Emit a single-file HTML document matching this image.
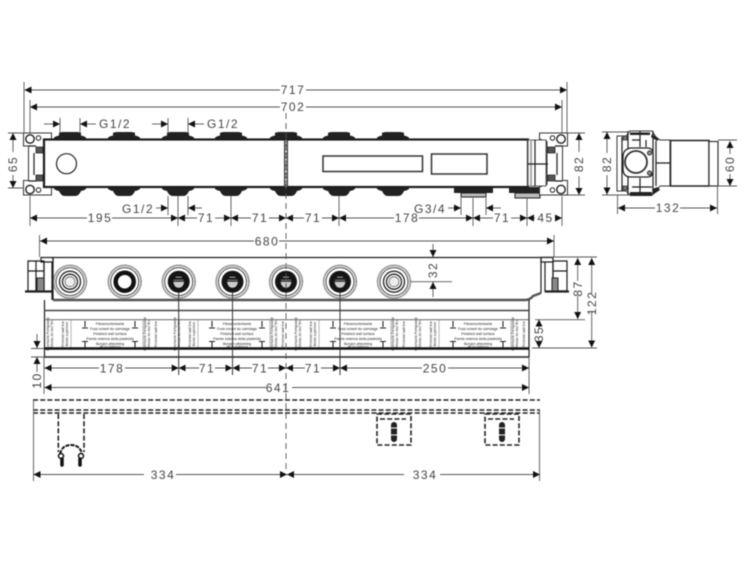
<!DOCTYPE html>
<html><head><meta charset="utf-8"><style>
html,body{margin:0;padding:0;background:#fff;width:750px;height:563px;overflow:hidden}
svg{display:block;filter:blur(.4px)}
text{font-family:"Liberation Sans",sans-serif;font-size:12px;fill:#444;letter-spacing:1.500px;text-anchor:middle}
.t{font-size:3.600px;letter-spacing:0;fill:#222}
.v{font-size:3.400px;letter-spacing:0;fill:#222}
.d{fill:none;stroke:#555;stroke-width:.9}
.e{marker-end:url(#a)}
.s{marker-start:url(#a)}
.k{fill:none;stroke:#1c1c1c;stroke-width:1.200}
.b{fill:none;stroke:#1c1c1c;stroke-width:2.200}
.g{fill:none;stroke:#777;stroke-width:.8}
.da{fill:none;stroke:#222;stroke-width:1.600;stroke-dasharray:5 2.200}
.c{fill:none;stroke:#555;stroke-width:.9;stroke-dasharray:6 4}
</style></head><body>
<svg width="750" height="563" viewBox="0 0 750 563" xmlns="http://www.w3.org/2000/svg">
<defs>
<marker id="a" markerUnits="userSpaceOnUse" markerWidth="8" markerHeight="8" refX="7" refY="3.500" orient="auto-start-reverse"><path d="M7 3.500L0 0V7Z" fill="#111"/></marker>
<path id="bt" d="M-16 7V5.500Q-14 4-11 3.500V.8Q-9 0-7 0H7Q9 0 11 .8V3.500Q14 4 16 5.500V7Z" fill="#222"/>
<path id="bb" d="M-16 0V2Q-14 3.500-11 4Q-9 9-5 9H5Q9 9 11 4Q14 3.500 16 2V0Z" fill="#222"/>
<g id="ring"><circle r="16.300" fill="none" stroke="#666" stroke-width="1.800" stroke-dasharray="1.200 .7"/><circle r="14" fill="none" stroke="#333" stroke-width=".9"/></g>
<g id="c1"><use href="#ring"/><circle r="10.500" fill="none" stroke="#222" stroke-width="1.300"/><circle r="7.500" fill="none" stroke="#222" stroke-width="1.300"/><circle r="5" fill="#eee" stroke="#666" stroke-width=".8"/></g>
<g id="c2"><use href="#ring"/><circle r="9" fill="none" stroke="#111" stroke-width="4.500"/></g>
<g id="c3"><use href="#ring"/><circle r="11" fill="#151515"/><path d="M-5.500 0H5.500Q4.500 6 0 6Q-4.500 6-5.500 0Z" fill="#ccc"/><path d="M-3-4.500H3" stroke="#999" stroke-width="1.200"/><path d="M-5-1.500H5" stroke="#aaa" stroke-width=".8"/></g>
<g id="lab">
<text class="t" y="325">Fliesenunterkante</text>
<text class="t" y="330">Fuss sorant du carrelage</text>
<text class="t" y="335">Finished wall surface</text>
<text class="t" y="340">Parete esterna della piastrella</text>
<text class="t" y="345">Borgen afslutning</text>
<text class="t" y="348">de la baldosa</text>
<path d="M-25 321V327M-28 328H-22M25 321V327M22 328H28M-25 342V348M-28 341.500H-22M25 342V348M22 341.500H28" stroke="#222" stroke-width="1.100"/>
<text class="v" transform="translate(-61 334)rotate(-90)">Oberkante Fertigwand</text>
<text class="v" transform="translate(-57 334)rotate(-90)">Niveau du mur fini</text>
<text class="v" transform="translate(-46 334)rotate(-90)">Finished wall line</text>
<text class="v" transform="translate(-42 334)rotate(-90)">Bordo superiore</text>
<text class="v" transform="translate(36 334)rotate(-90)">Oberkante Fertigwand</text>
<text class="v" transform="translate(40 334)rotate(-90)">Niveau du mur fini</text>
<text class="v" transform="translate(47 334)rotate(-90)">Finished wall line</text>
<path d="M-39 320V348M33 320V348" stroke="#888" stroke-width=".6"/>
</g>
<g id="brk">
<path d="M23.500 133H51.500V139L44 141.500V184.500L51.500 187V195H23.500V180.500H28.500V146H23.500Z" fill="#fff" stroke="#333" stroke-width="1"/>
<circle cx="30" cy="139" r="4.200" fill="#fff" stroke="#222" stroke-width="1.400"/><circle cx="38.500" cy="138" r="2.300" fill="#fff" stroke="#222"/>
<circle cx="30" cy="189.500" r="4.200" fill="#fff" stroke="#222" stroke-width="1.400"/><circle cx="38.500" cy="190" r="2.300" fill="#fff" stroke="#222"/>
<path d="M36 147H43V153H36ZM36 175H43V181H36Z" fill="#555" stroke="#222" stroke-width=".8"/>
<path d="M34 153V175" class="k"/><path d="M28.500 146H36M28.500 181H36" class="k" stroke-width=".8"/>
</g>
<g id="hb"><rect x="-17" y="0" width="34" height="31" class="da"/><path d="M-14 5H12" class="da"/><rect x="-3" y="8" width="6" height="20" rx="3" fill="#222"/><path d="M-3 14H3M-3 21H3" stroke="#fff" stroke-width=".9"/></g>
</defs>

<!-- top view -->
<use href="#bt" x="70" y="132"/><use href="#bt" x="124" y="132"/><use href="#bt" x="178" y="132"/><use href="#bt" x="231" y="132"/><use href="#bt" x="286" y="132"/><use href="#bt" x="339" y="132"/><use href="#bt" x="393" y="132"/>
<use href="#bb" x="70" y="187"/><use href="#bb" x="124" y="187"/><use href="#bb" x="178" y="187"/><use href="#bb" x="231" y="187"/><use href="#bb" x="286" y="187"/><use href="#bb" x="339" y="187"/><use href="#bb" x="393" y="187"/>
<path d="M454 187H493V193H454ZM509 187H540V193H509Z" fill="#222"/>
<path d="M461 193H486V197H461ZM515 193H540V198H515Z" fill="#bbb" stroke="#222"/>
<use href="#brk"/>
<use href="#brk" transform="matrix(-1 0 0 1 591 0)"/>
<rect x="44" y="139.500" width="484" height="47.500" fill="#fff" stroke="#1c1c1c" stroke-width="2.200"/>
<path d="M528 140H546V186H528Z" fill="#fff" stroke="#555"/><path d="M531 140V186" stroke="#aaa" stroke-width="2"/><path d="M535 140V186M528 164H548" class="k" stroke-width=".9"/>
<circle cx="66.500" cy="163.700" r="10" fill="#fff" stroke="#222" stroke-width="1.200"/>
<path d="M284.500 140V187M287.500 140V187" stroke="#333" stroke-width="1"/><path d="M286 140V187" stroke="#888" stroke-width="2" stroke-dasharray="3 1"/>
<rect x="323" y="156" width="99.500" height="15.500" fill="#fff" stroke="#333" stroke-width="1.500"/>
<rect x="431.500" y="154" width="55.500" height="20" fill="#fff" stroke="#333" stroke-width="1.500"/>

<!-- top dims -->
<path class="d" d="M24 82V133M30 100V133M567 82V133M562 100V133"/>
<path class="d s" d="M24.500 90H280"/><path class="d e" d="M306 90H567"/>
<path class="d s" d="M30 107H280"/><path class="d e" d="M306 107H562"/>
<text x="293" y="94">717</text><text x="293" y="111">702</text>
<path class="d" d="M60 118V133M80 118V133M168 118V133M188 118V133"/>
<path class="d e" d="M44 124H60"/><path class="d e" d="M96 124H80"/><path class="d e" d="M152 124H168"/><path class="d e" d="M204 124H188"/>
<text x="115" y="128">G1/2</text><text x="223" y="128">G1/2</text>
<path class="d" d="M30 196V226M168 196V215M178 196V226M188 196V215M231 196V226M339 196V226M461 198V215M473 198V226M486 198V215M527 198V226M562 196V226"/>
<text x="138" y="213">G1/2</text>
<path class="d e" d="M156 208H168"/><path class="d e" d="M202 208H188"/>
<text x="430" y="213">G3/4</text>
<path class="d e" d="M448 208H461"/><path class="d e" d="M501 208H486"/>
<path class="d s" d="M30 218H87"/><path class="d e" d="M112 218H178"/><text x="100" y="222">195</text>
<path class="d s" d="M178 218H197"/><path class="d e" d="M215 218H231"/><text x="206" y="222">71</text>
<path class="d s" d="M231 218H251"/><path class="d e" d="M269 218H286"/><text x="260" y="222">71</text>
<path class="d s" d="M286 218H304"/><path class="d e" d="M322 218H339"/><text x="313" y="222">71</text>
<path class="d s" d="M339 218H394"/><path class="d e" d="M419 218H473"/><text x="407" y="222">178</text>
<path class="d s" d="M473 218H493"/><path class="d e" d="M511 218H527"/><text x="502" y="222">71</text>
<path class="d s" d="M527 218H535"/><path class="d e" d="M556 218H562"/><text x="545.500" y="222">45</text>
<path class="d" d="M8 133H24M8 188H24M568 133H585M568 195H585"/>
<path class="d s" d="M13 133V152"/><path class="d e" d="M13 175V188"/><text transform="translate(17 164)rotate(-90)">65</text>
<path class="d s" d="M579 133V152"/><path class="d e" d="M579 176V195"/><text transform="translate(583 164)rotate(-90)">82</text>

<!-- side view -->
<path d="M617 136H626L630 131H652L656 137L660 140H670V186H660L656 191L652 195H630L626 191H617Z" fill="#fff" stroke="#333" stroke-width="1"/>
<path d="M622 137V191M628 131V195M653 131V195M640 131V147M640 178V195M632 140H640M646 140V147M632 187H652M656 163H670M656 141V186" class="k" stroke-width=".9"/>
<path d="M630 132.500H650V135H630ZM652 134L659 139L657 141L651 137ZM630 192H652V196H630ZM652 189L658 187L660 190L654 194Z" fill="#222"/>
<path d="M623 157Q623 149 631 148H647Q653 148 653 154V171Q653 177 647 177H631Q623 177 623 169Z" fill="#fff" stroke="#222" stroke-width="1.300"/>
<circle cx="636" cy="162" r="11" fill="#fff" stroke="#333" stroke-width="1.800"/>
<circle cx="649.500" cy="153" r="2" fill="#999" stroke="#222"/><circle cx="649.500" cy="173" r="2" fill="#999" stroke="#222"/>
<rect x="623" y="136" width="4" height="4" fill="#777" stroke="#222" stroke-width=".7"/><rect x="623" y="186" width="4" height="4" fill="#777" stroke="#222" stroke-width=".7"/>
<rect x="670.500" y="140.500" width="38.500" height="45.500" fill="#fff" stroke="#222" stroke-width="1.500"/>
<rect x="709" y="141.500" width="9" height="44.500" fill="#fff" stroke="#333" stroke-width="1.200"/>
<path class="d" d="M602 132H630M602 195H630M718 140H737M718 186H737M617.500 195V214M717.500 186V214"/>
<path class="d s" d="M607 132V153"/><path class="d e" d="M607 175V194.500"/><text transform="translate(611 164)rotate(-90)">82</text>
<path class="d s" d="M730 141V154"/><path class="d e" d="M730 174V186"/><text transform="translate(734 164)rotate(-90)">60</text>
<path class="d s" d="M618 208H655"/><path class="d e" d="M680 208H717"/><text x="668" y="212">132</text>

<!-- front view -->
<path d="M53 257H541V293L525 300H53Z" fill="#fff"/>
<path d="M53 257.500H541M53 257.500V300M541 257.500V293" class="k" stroke-width="1.800"/>
<path d="M53 300H525Q530 300 533 296L541 293" fill="none" stroke="#555" stroke-width="2.400"/>
<path d="M28 261H44V291H28ZM28 271H44M36 261V291" class="k" stroke-width="1"/><path d="M25 291.500H53" stroke="#222" stroke-width="2.200"/>
<path d="M41 257.500H53V262H41ZM44 262V291M52 262V300" class="k"/><path d="M37 278H44V291H37Z" fill="#888" stroke="#222"/>
<path d="M541 257.500H553V262H541ZM553 262V291M545 262V292" class="k"/><path d="M553 261H567V291H553ZM553 271H567" class="k" stroke-width="1"/><path d="M545 291.500H569" stroke="#222" stroke-width="2.200"/><path d="M552 278H558V291H552Z" fill="#888" stroke="#222"/>
<use href="#c1" x="70" y="281.700"/><use href="#c2" x="124.700" y="281.700"/><use href="#c3" x="178.700" y="281.700"/><use href="#c3" x="232.500" y="281.700"/><use href="#c3" x="286" y="281.700"/><use href="#c3" x="340" y="281.700"/><use href="#c1" x="394" y="281.700"/>
<path d="M44.500 300V357H529V300" class="k" stroke-width="1.500"/>
<path d="M44.500 310.500H529" stroke="#444" stroke-width="1.400"/><path d="M44.500 319.700H529" stroke="#555" stroke-width=".9"/>
<use href="#lab" x="110"/><use href="#lab" x="237"/><use href="#lab" x="358"/><use href="#lab" x="478"/>
<path d="M44.500 348.500H529" stroke="#111" stroke-width="2.500"/>
<path d="M44.500 357H529" stroke="#333" stroke-width="1.600"/>

<!-- front dims -->
<path class="d" d="M39.500 235V257M554 235V257M411 281.700H452M44 357V394M529 357V394"/>
<path d="M178.700 292V375M232.500 292V375M340 292V375" stroke="#333" stroke-width="1" fill="none"/>
<path class="d s" d="M40 241H254"/><path class="d e" d="M279 241H554"/><text x="267" y="245.500">680</text>
<path class="d e" d="M433 244V257"/><path class="d s" d="M433 282V297"/><text transform="translate(437 270)rotate(-90)">32</text>
<path class="d" d="M541 257H597M535 319.700H585M532 348H597"/>
<path class="d s" d="M577.700 258V281"/><path class="d e" d="M577.700 296V319"/><text transform="translate(582 288.500)rotate(-90)">87</text>
<path class="d s" d="M591.700 258V294"/><path class="d e" d="M591.700 312V347.500"/><text transform="translate(596 303)rotate(-90)">122</text>
<path class="d e" d="M539 328V319.500"/><path class="d e" d="M539 340V348"/><text transform="translate(543 334)rotate(-90)">35</text>
<path class="d" d="M31 348.500H44M31 357H44"/>
<path class="d e" d="M37 334V348"/><path class="d e" d="M37 372V357"/><text transform="translate(41 380.500)rotate(-90)">10</text>
<path class="d s" d="M44.500 368H99"/><path class="d e" d="M125 368H178.700"/><text x="112" y="372.500">178</text>
<path class="d s" d="M178.700 368H199"/><path class="d e" d="M215 368H232.500"/><text x="207" y="372.500">71</text>
<path class="d s" d="M232.500 368H252"/><path class="d e" d="M268 368H286"/><text x="260" y="372.500">71</text>
<path class="d s" d="M286 368H305"/><path class="d e" d="M321 368H340"/><text x="313" y="372.500">71</text>
<path class="d s" d="M340 368H422"/><path class="d e" d="M448 368H529"/><text x="435" y="372.500">250</text>
<path class="d s" d="M44.500 387.500H266"/><path class="d e" d="M292 387.500H529"/><text x="278" y="392">641</text>

<!-- bottom dashed view -->
<path class="da" d="M33 400H540M33 410H540M33 413H540M58.300 414V452M84 414V452" stroke-width="1.600"/>
<path d="M60 454Q62 445 71 445Q80 445 82 454" fill="none" stroke="#111" stroke-width="2" stroke-dasharray="4 1"/>
<circle cx="61" cy="456" r="2.500" fill="#fff" stroke="#111" stroke-width="1.500"/><circle cx="81" cy="456" r="2.500" fill="#fff" stroke="#111" stroke-width="1.500"/>
<path d="M62 459V465M80 459V465" stroke="#111" stroke-width="3.500" stroke-linecap="round"/>
<use href="#hb" x="394" y="414"/><use href="#hb" x="502" y="414"/>
<path class="d" d="M33.500 400V481M539.500 410V481"/>
<path class="d s" d="M33.500 474.500H144"/><path class="d e" d="M176 474.500H287"/><text x="163" y="479">334</text>
<path class="d s" d="M287 474.500H404"/><path class="d e" d="M440 474.500H540"/><text x="425" y="479">334</text>

<!-- center line -->
<path class="c" d="M286 113V470"/>
</svg>
</body></html>
